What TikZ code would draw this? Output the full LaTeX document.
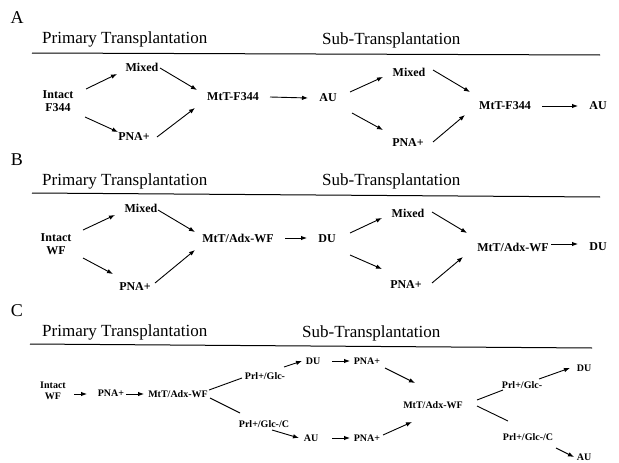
\documentclass[tikz,border=0pt]{standalone}
\usepackage{fontspec}
\setmainfont{Liberation Serif}
\usetikzlibrary{arrows.meta,calc}
\begin{document}
\begin{tikzpicture}[x=1pt,y=-1pt,
  lbl/.style={font=\fontsize{12}{12.5}\selectfont\bfseries, inner sep=0pt, align=center},
  lblc/.style={font=\fontsize{10}{11.5}\selectfont\bfseries, inner sep=0pt, align=center},
  head/.style={font=\fontsize{17}{20}\selectfont, inner sep=0pt, anchor=base west},
  panel/.style={font=\fontsize{18}{20}\selectfont, inner sep=0pt},
  rule/.style={line width=1pt},
  arr/.style={line width=0.9pt, -{Latex[length=6pt,width=4.5pt]}},
  ln/.style={line width=0.9pt}]
\useasboundingbox (0,0) rectangle (619,463);

% ---------------- Panel A ----------------
\node[panel] (pA) at (17,18) {A};
\node[head] (hA1) at (42,43) {Primary Transplantation};
\node[head] (hA2) at (322,44) {Sub-Transplantation};
\draw[rule] (32,53) -- (600,55);

\node[lbl] (intactA) at (58,101) {Intact\\F344};
\node[lbl] (mixA1) at (142,67) {Mixed};
\node[lbl] (pnaA1) at (134,137) {PNA+};
\node[lbl] (mtA1) at (233,97) {MtT-F344};
\node[lbl] (auA1) at (328,98) {AU};
\node[lbl] (mixA2) at (409,72) {Mixed};
\node[lbl] (pnaA2) at (408,143) {PNA+};
\node[lbl] (mtA2) at (505,106) {MtT-F344};
\node[lbl] (auA2) at (598,106) {AU};

\draw[arr] ($(intactA)+(28,-12)$) -- ($(mixA1)+(-25,7)$);
\draw[arr] ($(mixA1)+(18,1)$) -- ($(mtA1)+(-36,-7)$);
\draw[arr] ($(intactA)+(27,16)$) -- ($(pnaA1)+(-16,-5)$);
\draw[arr] ($(pnaA1)+(23,0)$) -- ($(mtA1)+(-38,11)$);
\draw[arr] ($(mtA1)+(37,0)$) -- ($(auA1)+(-20,0)$);
\draw[arr] ($(auA1)+(22,-6)$) -- ($(mixA2)+(-26,5)$);
\draw[arr] ($(auA1)+(24,15)$) -- ($(pnaA2)+(-25,-13)$);
\draw[arr] ($(mixA2)+(24,-2)$) -- ($(mtA2)+(-35,-14)$);
\draw[arr] ($(pnaA2)+(25,-1)$) -- ($(mtA2)+(-40,9)$);
\draw[arr] ($(mtA2)+(37,0)$) -- ($(auA2)+(-20,0)$);

% ---------------- Panel B ----------------
\node[panel] (pB) at (17,160) {B};
\node[head] (hB1) at (42,185) {Primary Transplantation};
\node[head] (hB2) at (322,185) {Sub-Transplantation};
\draw[rule] (32,193) -- (600,197);

\node[lbl] (intactB) at (56,244) {Intact\\WF};
\node[lbl] (mixB1) at (141,208) {Mixed};
\node[lbl] (pnaB1) at (135,287) {PNA+};
\node[lbl] (mtB1) at (238,238) {MtT/Adx-WF};
\node[lbl] (duB1) at (327,239) {DU};
\node[lbl] (mixB2) at (408,213) {Mixed};
\node[lbl] (pnaB2) at (406,285) {PNA+};
\node[lbl] (mtB2) at (513,247) {MtT/Adx-WF};
\node[lbl] (duB2) at (598,247) {DU};

\draw[arr] ($(intactB)+(27,-14)$) -- ($(mixB1)+(-26,7)$);
\draw[arr] ($(mixB1)+(17,2)$) -- ($(mtB1)+(-43,-6)$);
\draw[arr] ($(intactB)+(27,14)$) -- ($(pnaB1)+(-22,-13)$);
\draw[arr] ($(pnaB1)+(20,-4)$) -- ($(mtB1)+(-43,12)$);
\draw[arr] ($(mtB1)+(47,0)$) -- ($(duB1)+(-20,-1)$);
\draw[arr] ($(duB1)+(23,-6)$) -- ($(mixB2)+(-26,5)$);
\draw[arr] ($(duB1)+(23,16)$) -- ($(pnaB2)+(-24,-16)$);
\draw[arr] ($(mixB2)+(24,-1)$) -- ($(mtB2)+(-46,-14)$);
\draw[arr] ($(pnaB2)+(26,-2)$) -- ($(mtB2)+(-50,10)$);
\draw[arr] ($(mtB2)+(38,-3)$) -- ($(duB2)+(-20,-3)$);

% ---------------- Panel C ----------------
\node[panel] (pC) at (17,311) {C};
\node[head] (hC1) at (42,336) {Primary Transplantation};
\node[head] (hC2) at (302,337) {Sub-Transplantation};
\draw[rule] (30,344) -- (592,348);

\node[lblc] (intactC) at (53,391) {Intact\\WF};
\node[lblc] (pnaC1) at (111,393) {PNA+};
\node[lblc] (mtC1) at (178,394) {MtT/Adx-WF};
\node[lblc] (prlC1) at (265,376) {Prl+/Glc-};
\node[lblc] (prlcC1) at (264,424) {Prl+/Glc-/C};
\node[lblc] (duC1) at (313,361) {DU};
\node[lblc] (auC1) at (311,438) {AU};
\node[lblc] (pnaC2) at (367,361) {PNA+};
\node[lblc] (pnaC3) at (367,438) {PNA+};
\node[lblc] (mtC2) at (433,405) {MtT/Adx-WF};
\node[lblc] (prlC2) at (522,385) {Prl+/Glc-};
\node[lblc] (duC2) at (584,368) {DU};
\node[lblc] (prlcC2) at (528,437) {Prl+/Glc-/C};
\node[lblc] (auC2) at (584,457) {AU};

\draw[arr] ($(intactC)+(21,3)$) -- ($(pnaC1)+(-24,1)$);
\draw[arr] ($(pnaC1)+(15,1)$) -- ($(mtC1)+(-34,0)$);
\draw[ln] ($(mtC1)+(31,-4)$) -- ($(prlC1)+(-23,2)$);
\draw[ln] ($(mtC1)+(32,4)$) -- ($(prlcC1)+(-24,-11)$);
\draw[arr] ($(prlC1)+(19,-9)$) -- ($(duC1)+(-11,0)$);
\draw[arr] ($(prlcC1)+(8,6)$) -- ($(auC1)+(-12,0)$);
\draw[arr] ($(duC1)+(19,0)$) -- ($(pnaC2)+(-17,0)$);
\draw[arr] ($(auC1)+(21,0)$) -- ($(pnaC3)+(-17,0)$);
\draw[arr] ($(pnaC2)+(18,7)$) -- ($(mtC2)+(-18,-22)$);
\draw[arr] ($(pnaC3)+(16,-3)$) -- ($(mtC2)+(-21,17)$);
\draw[ln] ($(mtC2)+(44,-5)$) -- ($(prlC2)+(-19,5)$);
\draw[ln] ($(mtC2)+(44,1)$) -- ($(prlcC2)+(-20,-16)$);
\draw[arr] ($(prlC2)+(17,-6)$) -- ($(duC2)+(-14,0)$);
\draw[arr] ($(prlcC2)+(28,11)$) -- ($(auC2)+(-10,0)$);
\end{tikzpicture}
\end{document}
